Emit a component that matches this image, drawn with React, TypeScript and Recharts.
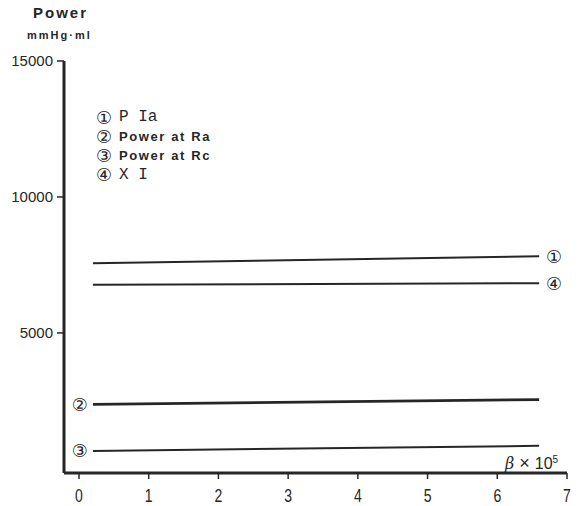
import React from "react";
import { LineChart, Line, XAxis, YAxis, LabelList } from "recharts";

// β × 10^5 at both ends of every trace
const beta = [0.2, 6.6];
const pIa = [7560, 7820];
const powerAtRa = [2370, 2550];
const powerAtRc = [660, 850];
const xI = [6770, 6830];

const xTicks = [0, 1, 2, 3, 4, 5, 6, 7];
const yTicks = [5000, 10000, 15000];

const legendItems = [
  { mark: "①", text: "P Ia", mono: true },
  { mark: "②", text: "Power at Ra", mono: false },
  { mark: "③", text: "Power at Rc", mono: false },
  { mark: "④", text: "X I", mono: true },
];

const rows = beta.map((b, i) => ({
  beta: b,
  pIa: pIa[i],
  powerAtRa: powerAtRa[i],
  powerAtRc: powerAtRc[i],
  xI: xI[i],
}));

const INK = "#262626";
const CIRCLED = "DejaVu Sans, sans-serif";

// circled number next to the first or last point of a trace
function endMark(symbol: string, side: "start" | "end") {
  return (props: any) => {
    const want = side === "end" ? rows.length - 1 : 0;
    if (props.index !== want) return null;
    const x = Number(props.x) + (side === "end" ? 15 : -13);
    return (
      <text
        x={x}
        y={Number(props.y)}
        dy="0.36em"
        textAnchor="middle"
        fontSize={18}
        fontFamily={CIRCLED}
        fill={INK}
      >
        {symbol}
      </text>
    );
  };
}

function XTick(props: any) {
  const { x, y, payload } = props;
  return (
    <g transform={`translate(${x},${y + 21}) scale(0.78,1)`}>
      <text textAnchor="middle" fontSize={18} fontFamily="Liberation Sans, Arial, sans-serif" fill={INK}>
        {payload.value}
      </text>
    </g>
  );
}

export default function App() {
  return (
    <div
      style={{
        position: "absolute",
        left: 0,
        top: 0,
        width: 578,
        height: 506,
        background: "#fff",
        fontFamily: "Liberation Sans, Arial, sans-serif",
        color: INK,
      }}
    >
      <LineChart
        width={578}
        height={506}
        data={rows}
        margin={{ top: 61, right: 11, left: 0, bottom: 0 }}
      >
        <XAxis
          dataKey="beta"
          type="number"
          domain={[-0.215, 7]}
          ticks={xTicks}
          height={33}
          axisLine={{ stroke: INK, strokeWidth: 3 }}
          tickLine={{ stroke: INK, strokeWidth: 1.5 }}
          tickSize={6}
          tick={<XTick />}
          allowDataOverflow
        />
        <YAxis
          type="number"
          domain={[-150, 15000]}
          ticks={yTicks}
          width={64}
          axisLine={{ stroke: INK, strokeWidth: 3 }}
          tickLine={{ stroke: INK, strokeWidth: 1.5 }}
          tickSize={7}
          tickMargin={4}
          tick={{ fill: INK, fontSize: 15, fontFamily: "Liberation Sans, Arial, sans-serif" }}
          allowDataOverflow
        />
        <Line dataKey="pIa" stroke={INK} strokeWidth={2} dot={false} isAnimationActive={false}>
          <LabelList dataKey="pIa" content={endMark("①", "end")} />
        </Line>
        <Line dataKey="xI" stroke={INK} strokeWidth={2} dot={false} isAnimationActive={false}>
          <LabelList dataKey="xI" content={endMark("④", "end")} />
        </Line>
        <Line dataKey="powerAtRa" stroke={INK} strokeWidth={2.8} dot={false} isAnimationActive={false}>
          <LabelList dataKey="powerAtRa" content={endMark("②", "start")} />
        </Line>
        <Line dataKey="powerAtRc" stroke={INK} strokeWidth={2} dot={false} isAnimationActive={false}>
          <LabelList dataKey="powerAtRc" content={endMark("③", "start")} />
        </Line>
      </LineChart>

      {/* axis title */}
      <div
        style={{
          position: "absolute",
          left: 33,
          top: 4,
          fontSize: 15,
          fontWeight: 700,
          letterSpacing: 2,
          lineHeight: "18px",
        }}
      >
        Power
      </div>
      <div
        style={{
          position: "absolute",
          left: 27,
          top: 28,
          fontSize: 11,
          fontWeight: 700,
          letterSpacing: 2,
          lineHeight: "14px",
        }}
      >
        mmHg·ml
      </div>

      {/* legend */}
      {legendItems.map((item, i) => (
        <div
          key={item.mark}
          style={{
            position: "absolute",
            left: 96,
            top: 107 + i * 19.3,
            height: 20,
            display: "flex",
            alignItems: "center",
            whiteSpace: "nowrap",
          }}
        >
          <span style={{ fontFamily: CIRCLED, fontSize: 18, width: 23 }}>{item.mark}</span>
          {item.mono ? (
            <span style={{ fontFamily: "Liberation Mono, monospace", fontSize: 16 }}>{item.text}</span>
          ) : (
            <span style={{ fontSize: 13, fontWeight: 700, letterSpacing: 1.6 }}>{item.text}</span>
          )}
        </div>
      ))}

      {/* x-axis unit */}
      <div
        style={{
          position: "absolute",
          left: 505,
          top: 450,
          fontSize: 16,
          lineHeight: "19px",
          whiteSpace: "nowrap",
        }}
      >
        <span style={{ fontStyle: "italic", fontFamily: "DejaVu Serif, serif" }}>β</span>
        <span style={{ fontSize: 18 }}> × </span>
        <span>10</span>
        <sup style={{ fontSize: 10, verticalAlign: 6 }}>5</sup>
      </div>
    </div>
  );
}
